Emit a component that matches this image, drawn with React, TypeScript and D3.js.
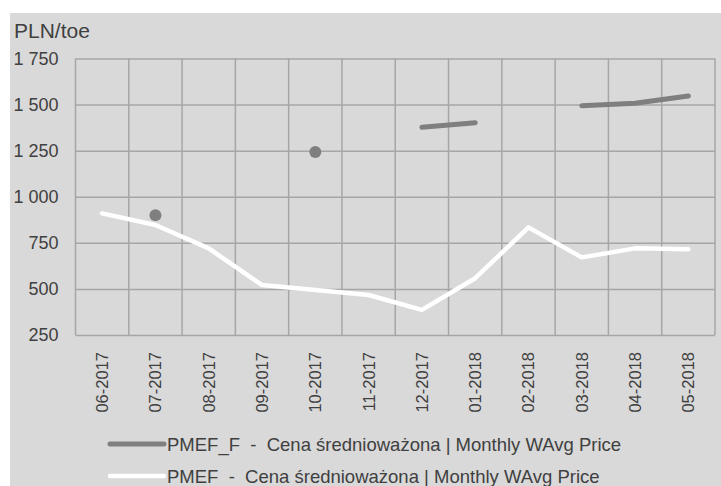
import { useRef, useEffect } from "react";
import * as d3 from "d3";

const months = [
  "06-2017", "07-2017", "08-2017", "09-2017", "10-2017", "11-2017",
  "12-2017", "01-2018", "02-2018", "03-2018", "04-2018", "05-2018",
];
// PMEF_F - forward, gaps where no price
const pmefF = [null, 900, null, null, 1243, null, 1377, 1402, null, 1494, 1507, 1547];
const pmef = [910, 847, 720, 521, 494, 467, 386, 558, 834, 671, 720, 715];
const yTicks = [250, 500, 750, 1000, 1250, 1500, 1750];

const fmt = (v: number) => (v >= 1000 ? Math.floor(v / 1000) + " " + String(v % 1000).padStart(3, "0") : String(v));

const App = () => {
  const svgRef = useRef<SVGSVGElement>(null);

  useEffect(() => {
    const svg = d3.select(svgRef.current);
    svg.selectAll("*").remove();

    const width = 721,
      height = 486,
      margin = { top: 58.5, right: 6, bottom: 151, left: 75.5 },
      font = "'Liberation Sans', Arial, sans-serif",
      textColor = "#404040",
      gridColor = "#a6a6a6";

    svg
      .append("rect")
      .attr("x", 10)
      .attr("y", 13)
      .attr("width", width - 10)
      .attr("height", height - 13)
      .attr("fill", "#d9d9d9");

    const x = d3
      .scaleBand()
      .domain(months)
      .range([margin.left, width - margin.right]);
    const y = d3
      .scaleLinear()
      .domain([250, 1750])
      .range([height - margin.bottom, margin.top]);

    // horizontal grid + y labels
    svg
      .append("g")
      .attr("transform", "translate(" + margin.left + ",0)")
      .call(
        d3
          .axisLeft(y)
          .tickValues(yTicks)
          .tickSize(-(width - margin.right - margin.left))
          .tickFormat((d) => fmt(d as number))
          .tickPadding(17)
      )
      .call((g) => g.select(".domain").remove())
      .call((g) => g.selectAll(".tick line").attr("stroke", gridColor).attr("stroke-width", 1.5))
      .call((g) =>
        g
          .selectAll(".tick text")
          .attr("fill", textColor)
          .attr("font-size", 18)
          .attr("font-family", font)
      );

    // vertical grid
    const edges = months.map((m) => x(m)!).concat([width - margin.right]);
    svg
      .append("g")
      .selectAll("line")
      .data(edges)
      .join("line")
      .attr("x1", (d) => d)
      .attr("x2", (d) => d)
      .attr("y1", margin.top)
      .attr("y2", height - margin.bottom)
      .attr("stroke", gridColor)
      .attr("stroke-width", 1.5);

    // x labels
    svg
      .append("g")
      .selectAll("text")
      .data(months)
      .join("text")
      .attr(
        "transform",
        (d) => "translate(" + (x(d)! + x.bandwidth() / 2 + 6) + "," + (height - margin.bottom + 17) + ") rotate(-90)"
      )
      .attr("text-anchor", "end")
      .attr("fill", textColor)
      .attr("font-size", 16.5)
      .attr("font-family", font)
      .text((d) => d);

    svg
      .append("text")
      .attr("x", 14)
      .attr("y", 38)
      .attr("fill", textColor)
      .attr("font-size", 21)
      .attr("font-family", font)
      .text("PLN/toe");

    const cx = (i: number) => x(months[i])! + x.bandwidth() / 2;

    // white PMEF line
    const line = d3
      .line<number | null>()
      .defined((d) => d != null)
      .x((_, i) => cx(i))
      .y((d) => y(d as number));

    svg
      .append("path")
      .datum(pmef)
      .attr("d", line)
      .attr("fill", "none")
      .attr("stroke", "#ffffff")
      .attr("stroke-width", 4.5)
      .attr("stroke-linecap", "round")
      .attr("stroke-linejoin", "round");

    svg
      .append("path")
      .datum(pmefF)
      .attr("d", line)
      .attr("fill", "none")
      .attr("stroke", "#7f7f7f")
      .attr("stroke-width", 5)
      .attr("stroke-linecap", "round")
      .attr("stroke-linejoin", "round");

    // isolated PMEF_F points
    const lone = pmefF
      .map((v, i) => ({ v, i }))
      .filter((d) => d.v != null && pmefF[d.i - 1] == null && pmefF[d.i + 1] == null);
    svg
      .append("g")
      .selectAll("circle")
      .data(lone)
      .join("circle")
      .attr("cx", (d) => cx(d.i))
      .attr("cy", (d) => y(d.v as number))
      .attr("r", 6)
      .attr("fill", "#7f7f7f");

    // legend
    const legend = [
      { label: "PMEF_F  -  Cena średnioważona | Monthly WAvg Price", color: "#7f7f7f", w: 5 },
      { label: "PMEF  -  Cena średnioważona | Monthly WAvg Price", color: "#ffffff", w: 4.5 },
    ];
    const lg = svg
      .append("g")
      .selectAll("g")
      .data(legend)
      .join("g")
      .attr("transform", (_, i) => "translate(110," + (444 + i * 32) + ")");
    lg.append("line")
      .attr("x1", 0)
      .attr("x2", 54)
      .attr("stroke", (d) => d.color)
      .attr("stroke-width", (d) => d.w)
      .attr("stroke-linecap", "round");
    lg.append("text")
      .attr("x", 57)
      .attr("y", 6.5)
      .attr("fill", textColor)
      .attr("font-size", 18.5)
      .attr("font-family", font)
      .style("white-space", "pre")
      .text((d) => d.label);
  }, []);

  return (
    <svg
      ref={svgRef}
      width={721}
      height={486}
      style={{ position: "absolute", left: 0, top: 0 }}
    ></svg>
  );
};

export default App;
